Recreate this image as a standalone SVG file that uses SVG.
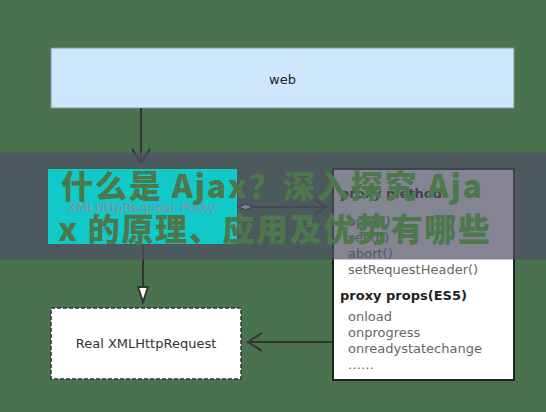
<svg xmlns="http://www.w3.org/2000/svg" width="546" height="412" viewBox="0 0 546 412">
<style>
.lbl{font-family:"DejaVu Sans","Liberation Sans",sans-serif;font-size:13px}
.item{font-family:"DejaVu Sans","Liberation Sans",sans-serif;font-size:13px;fill:#666}
.ttl{font-family:"DejaVu Sans","Liberation Sans",sans-serif;font-size:13px;font-weight:bold;fill:#222}
.conn{stroke:#333;stroke-width:2;fill:none}
.cn{font-family:"Noto Sans CJK SC","Noto Sans",sans-serif;font-size:32px;font-weight:900;fill:#4c784c}
</style>
<defs>
<marker id="open" markerUnits="userSpaceOnUse" viewBox="-16 -11 18 22" refX="0" refY="0" markerWidth="18" markerHeight="22" orient="auto" overflow="visible">
<path d="M-14,-9 L0,0 L-14,9" fill="none" stroke="#333" stroke-width="2"/>
</marker>
<marker id="open-s" markerUnits="userSpaceOnUse" viewBox="-13 -9 15 18" refX="0" refY="0" markerWidth="15" markerHeight="18" orient="auto" overflow="visible">
<path d="M-11,-7 L0,0 L-11,7" fill="none" stroke="#333" stroke-width="2"/>
</marker>
<marker id="tri" markerUnits="userSpaceOnUse" viewBox="-18 -7 20 14" refX="0" refY="0" markerWidth="20" markerHeight="14" orient="auto" overflow="visible">
<path d="M-15,-5 L0,0 L-15,5 Z" fill="#fff" stroke="#333" stroke-width="2" stroke-linejoin="miter"/>
</marker>
<marker id="dia" markerUnits="userSpaceOnUse" viewBox="-1 -5 18 10" refX="0" refY="0" markerWidth="18" markerHeight="10" orient="auto" overflow="visible">
<path d="M0,0 L7.5,-3 L15,0 L7.5,3 Z" fill="#fff" stroke="#333" stroke-width="1.5"/>
</marker>
</defs>
<rect width="546" height="412" fill="#49724f"/>

<g id="web">
<rect x="51" y="48" width="463" height="60" fill="#cfe6ff" stroke="#8590a0" stroke-width="1"/>
<text class="lbl" x="282.5" y="84" text-anchor="middle" fill="#222">web</text>
</g>

<g id="connectors">
<line class="conn" x1="141" y1="108" x2="141" y2="163" marker-end="url(#open)"/>
<line class="conn" x1="143" y1="244" x2="143" y2="302" marker-end="url(#tri)"/>
<line class="conn" x1="238" y1="207" x2="326" y2="207" marker-start="url(#dia)" marker-end="url(#open-s)"/>
<line class="conn" x1="333" y1="342" x2="248" y2="342" marker-end="url(#open)"/>
</g>

<g id="proxy-api">
<rect x="333" y="169" width="181" height="211" fill="#fff" stroke="#222" stroke-width="2"/>
<text class="ttl" x="340" y="198">proxy method</text>
<text class="item" x="348" y="226">open()</text>
<text class="item" x="348" y="242">send()</text>
<text class="item" x="348" y="258">abort()</text>
<text class="item" x="348" y="274">setRequestHeader()</text>
<text class="ttl" x="340" y="300">proxy props(ES5)</text>
<text class="item" x="348" y="321">onload</text>
<text class="item" x="348" y="337">onprogress</text>
<text class="item" x="348" y="353">onreadystatechange</text>
<text class="item" x="348" y="369">……</text>
</g>

<g id="real-xhr">
<rect x="51" y="308" width="190" height="71" fill="#fff" stroke="#333" stroke-width="1.5" stroke-dasharray="4 2"/>
<text class="lbl" x="146" y="348" text-anchor="middle" fill="#333">Real XMLHttpRequest</text>
</g>

<rect id="banner" x="0" y="152.5" width="546" height="107" fill="rgb(80,80,100)" fill-opacity="0.7"/>

<g id="proxy">
<rect x="48" y="169" width="189" height="75" fill="#12c9c9"/>
<text class="lbl" x="141.5" y="212" text-anchor="middle" fill="#8c8ca6">XMLHttpRequest Proxy</text>
</g>

<g id="title">
<text class="cn" x="61" y="198" textLength="421" lengthAdjust="spacing">什么是 Ajax？深入探究 Aja</text>
<text class="cn" x="58" y="241" textLength="432" lengthAdjust="spacing">x 的原理、应用及优势有哪些</text>
</g>
</svg>
